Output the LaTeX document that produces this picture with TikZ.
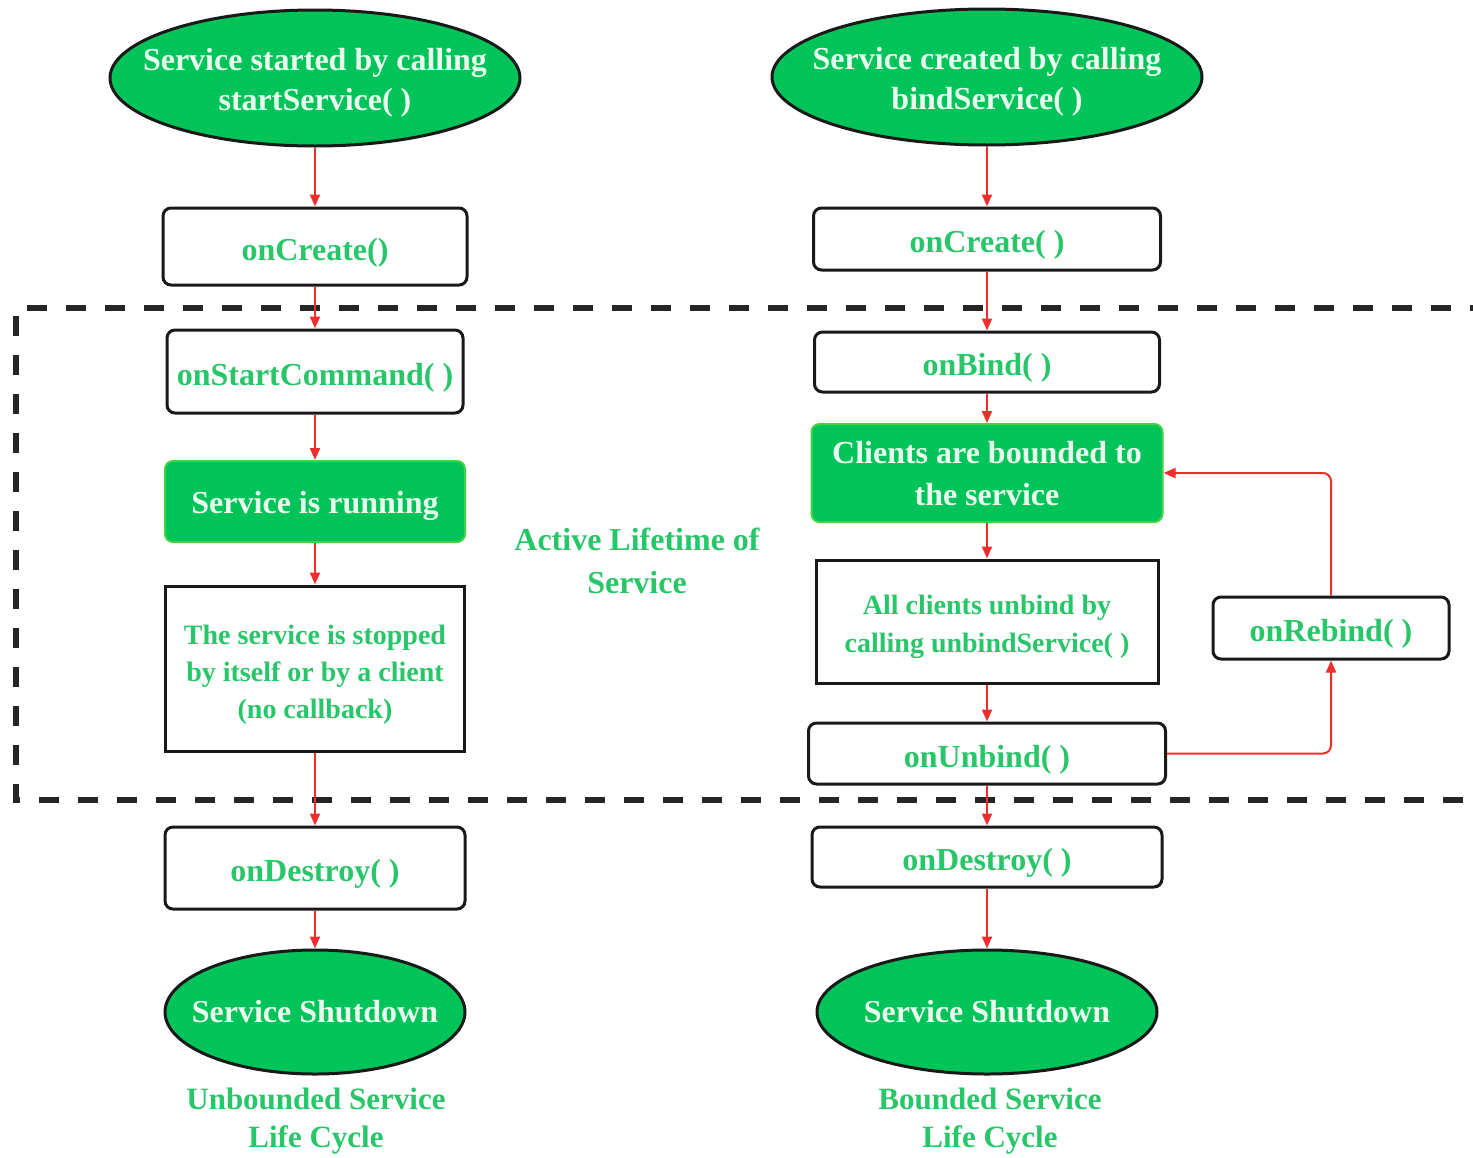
\documentclass[tikz,border=0pt]{standalone}
\usepackage{fontspec}
\setmainfont{Liberation Serif}
\usetikzlibrary{shapes.geometric,arrows.meta}
\definecolor{gfill}{RGB}{0,196,90}
\definecolor{gtext}{RGB}{40,198,105}
\definecolor{wtext}{RGB}{232,255,238}
\definecolor{redline}{RGB}{238,45,45}
\newcommand{\lowtext}[2]{\raisebox{-#1}[\height][\depth]{\begin{tabular}{@{}c@{}}#2\end{tabular}}}
\begin{document}
\begin{tikzpicture}[x=0.5pt,y=-0.5pt,
  box/.style={draw=black!90, line width=1.5pt, rounded corners=4pt, fill=white, text=gtext,
    font=\fontsize{16}{20}\selectfont\bfseries, align=center, inner sep=0pt},
  one/.style={text height=13.5pt, text depth=0pt},
  sqbox/.style={box, rounded corners=0pt, font=\fontsize{14}{18.5}\selectfont\bfseries},
  gbox/.style={box, fill=gfill, draw=gfill!75!yellow, line width=1pt, text=wtext, font=\fontsize{16}{21}\selectfont\bfseries},
  oval/.style={ellipse, draw=black!90, line width=1.5pt, fill=gfill, inner sep=0pt},
  wlbl/.style={text=wtext, font=\fontsize{16}{20}\selectfont\bfseries, align=center, inner sep=0pt},
  gtxt/.style={text=gtext, font=\fontsize{15.5}{19}\selectfont\bfseries, align=center, inner sep=0pt},
  arr/.style={draw=redline, line width=1pt, -{Triangle[length=6pt,width=5pt]}},
  dashbox/.style={draw=black!85, line width=2.7pt, dash pattern=on 10pt off 9.5pt},
]
\useasboundingbox (0,0) rectangle (1473,1157);

% dashed active-lifetime frame (open on the right)
\draw[dashbox] (1490,308) -- (16,308) -- (16,800) -- (1490,800);

% left column
\node[oval, minimum width=205pt, minimum height=68pt,
  label={[wlbl, yshift=-2.5pt]center:Service started by calling\\startService( )}] (ls) at (315,78) {};
\node[box, one, minimum width=152pt, minimum height=38.5pt] (lc) at (315,246.5) {onCreate()};
\node[box, one, minimum width=148pt, minimum height=41.5pt] (lsc) at (315,371.5) {onStartCommand( )};
\node[gbox, text height=12pt, text depth=0pt, minimum width=150pt, minimum height=40.5pt] (lrun) at (315,501.5) {Service is running};
\node[sqbox, minimum width=149.5pt, minimum height=82.5pt] (lstop) at (315,668.5)
  {\lowtext{3pt}{The service is stopped\\by itself or by a client\\(no callback)}};
\node[box, one, minimum width=150pt, minimum height=41pt] (ldes) at (315,868) {onDestroy( )};
\node[oval, minimum width=150pt, minimum height=62pt,
  label={[wlbl]center:Service Shutdown}] (lend) at (315,1012) {};
\node[gtxt] (llab) at (316,1121) {Unbounded Service\\Life Cycle};

% middle label
\node[gtxt, font=\fontsize{16}{21.5}\selectfont\bfseries] (act) at (637,561) {Active Lifetime of\\Service};

% right column
\node[oval, minimum width=215pt, minimum height=68pt,
  label={[wlbl, yshift=-2.5pt]center:Service created by calling\\bindService( )}] (rs) at (987,77) {};
\node[box, one, minimum width=173.5pt, minimum height=31pt] (rc) at (987,239) {onCreate( )};
\node[box, one, minimum width=172.5pt, minimum height=30pt] (rb) at (987,362) {onBind( )};
\node[gbox, minimum width=175.5pt, minimum height=49pt] (rcli) at (987,473)
  {\lowtext{1.5pt}{Clients are bounded to\\the service}};
\node[sqbox, minimum width=171pt, minimum height=61.5pt, font=\fontsize{14}{19}\selectfont\bfseries] (runb) at (987,621.5)
  {\lowtext{2pt}{All clients unbind by\\calling unbindService( )}};
\node[box, one, minimum width=178.5pt, minimum height=30.5pt] (ronu) at (987,753.5) {onUnbind( )};
\node[box, one, minimum width=175pt, minimum height=30pt] (rdes) at (987,857) {onDestroy( )};
\node[oval, minimum width=170pt, minimum height=62pt,
  label={[wlbl]center:Service Shutdown}] (rend) at (987,1012) {};
\node[gtxt] (rlab) at (990,1121) {Bounded Service\\Life Cycle};
\node[box, one, minimum width=118pt, minimum height=31pt] (rreb) at (1331,628) {onRebind( )};

% left arrows
\draw[arr] (ls) -- (lc);
\draw[arr] (lc) -- (lsc);
\draw[arr] (lsc) -- (lrun);
\draw[arr] (lrun) -- (lstop);
\draw[arr] (lstop) -- (ldes);
\draw[arr] (ldes) -- (lend);

% right arrows
\draw[arr] (rs) -- (rc);
\draw[arr] (rc) -- (rb);
\draw[arr] (rb) -- (rcli);
\draw[arr] (rcli) -- (runb);
\draw[arr] (runb) -- (ronu);
\draw[arr] (ronu) -- (rdes);
\draw[arr] (rdes) -- (rend);

% rebind loop
\draw[arr, rounded corners=4pt] (ronu.east) -| (rreb.south);
\draw[arr, rounded corners=4pt] (rreb.north) |- (rcli.east);
\end{tikzpicture}
\end{document}
